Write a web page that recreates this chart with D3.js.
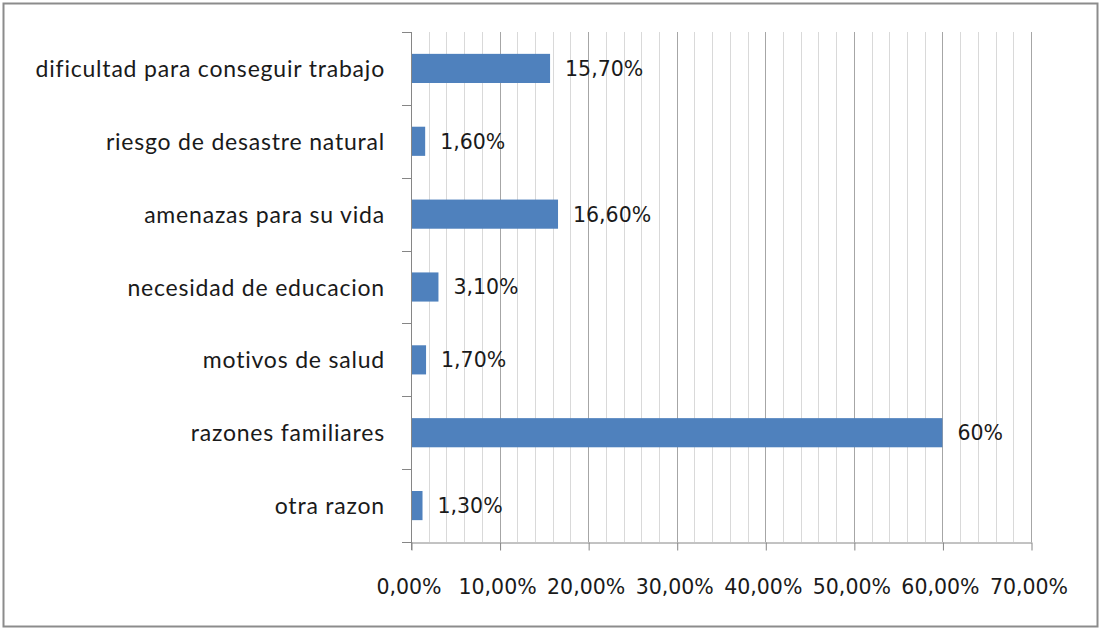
<!DOCTYPE html>
<html>
<head>
<meta charset="utf-8">
<script src="https://cdn.jsdelivr.net/npm/d3@7"></script>
<style>
  body { margin: 0; background: #fff; }
  svg { display: block; }
</style>
</head>
<body>
<svg id="chart" width="1100" height="629"></svg>
<script>
// -- data -- //
let categories = [
    "dificultad para conseguir trabajo",
    "riesgo de desastre natural",
    "amenazas para su vida",
    "necesidad de educacion",
    "motivos de salud",
    "razones familiares",
    "otra razon"
];
let values = [15.7, 1.6, 16.6, 3.1, 1.7, 60, 1.3];
let valueLabels = ["15,70%", "1,60%", "16,60%", "3,10%", "1,70%", "60%", "1,30%"];
let xTicks = [0, 10, 20, 30, 40, 50, 60, 70];
let xTickLabels = ["0,00%", "10,00%", "20,00%", "30,00%", "40,00%", "50,00%", "60,00%", "70,00%"];

let data = categories.map((c, i) => ({ cat: c, value: values[i], label: valueLabels[i] }));

let svg = d3.select("#chart");

// -- outer frame -- //
svg.append("rect")
    .attr("x", 3.5).attr("y", 3.5)
    .attr("width", 1094).attr("height", 623)
    .style("fill", "#fff")
    .style("stroke", "#8c8c8c")
    .style("stroke-width", 2);

let plotLeft = 411, plotRight = 1031, plotTop = 32, plotBottom = 542;

let xScale = d3.scaleLinear().domain([0, 70]).range([plotLeft, plotRight]);
let yScale = d3.scaleBand().domain(categories).range([plotTop, plotBottom]).paddingInner(0.6).paddingOuter(0.3);

// -- minor grid every 2% -- //
svg.append("g").selectAll("line")
    .data(d3.range(2, 70, 2).filter(v => v % 10 !== 0))
    .enter().append("line")
    .attr("x1", d => Math.round(xScale(d)) + 0.5).attr("x2", d => Math.round(xScale(d)) + 0.5)
    .attr("y1", plotTop).attr("y2", plotBottom)
    .style("stroke", "#d9d9d9").style("stroke-width", 1);

// -- major grid every 10% -- //
svg.append("g").selectAll("line")
    .data(xTicks.slice(1))
    .enter().append("line")
    .attr("x1", d => Math.round(xScale(d)) + 0.5).attr("x2", d => Math.round(xScale(d)) + 0.5)
    .attr("y1", plotTop).attr("y2", plotBottom)
    .style("stroke", "#a6a6a6").style("stroke-width", 1);

// -- bars -- //
svg.append("g").selectAll(".bar")
    .data(data)
    .enter().append("rect")
    .attr("class", "bar")
    .attr("x", xScale(0))
    .attr("y", d => yScale(d.cat))
    .attr("width", d => xScale(d.value) - xScale(0))
    .attr("height", yScale.bandwidth())
    .style("fill", "#4f81bd");

// -- value labels -- //
svg.append("g").selectAll("text")
    .data(data)
    .enter().append("text")
    .attr("x", d => xScale(d.value) + 15)
    .attr("y", d => yScale(d.cat) + yScale.bandwidth() / 2)
    .attr("dy", "0.36em")
    .text(d => d.label)
    .style("font-family", "DejaVu Sans")
    .style("font-size", "20.5px")
    .style("fill", "#1a1a1a");

// -- x axis -- //
let xAxis = d3.axisBottom(xScale).tickValues(xTicks).tickFormat((d, i) => xTickLabels[i]).tickSize(8).tickSizeOuter(0);
let gx = svg.append("g")
    .attr("transform", `translate(0.5, ${plotBottom + 0.5})`)
    .call(xAxis);
gx.select(".domain").style("stroke", "#868686");
gx.selectAll(".tick line").style("stroke", "#868686");
gx.selectAll(".tick text")
    .attr("y", 0).attr("dy", 0)
    .attr("transform", "translate(-3, 51)")
    .style("font-family", "DejaVu Sans")
    .style("font-size", "20.5px")
    .style("fill", "#1a1a1a");

// -- y axis: tick marks on band boundaries -- //
let boundaries = categories.map(c => yScale(c) - yScale.step() * yScale.paddingInner() / 2).concat([plotBottom]);
svg.append("g").selectAll("line")
    .data(boundaries)
    .enter().append("line")
    .attr("x1", plotLeft - 9).attr("x2", plotLeft + 0.5)
    .attr("y1", d => Math.round(d) + 0.5).attr("y2", d => Math.round(d) + 0.5)
    .style("stroke", "#868686");
svg.append("line")
    .attr("x1", plotLeft + 0.5).attr("x2", plotLeft + 0.5)
    .attr("y1", plotTop).attr("y2", plotBottom + 8)
    .style("stroke", "#868686");

// -- category labels -- //
svg.append("g").selectAll("text")
    .data(data)
    .enter().append("text")
    .attr("x", 385)
    .attr("y", d => yScale(d.cat) + yScale.bandwidth() / 2)
    .attr("dy", "0.37em")
    .attr("text-anchor", "end")
    .text(d => d.cat)
    .style("font-family", "Lato")
    .style("font-size", "23px")
    .style("letter-spacing", "0.8px")
    .style("fill", "#1a1a1a");
</script>
</body>
</html>
